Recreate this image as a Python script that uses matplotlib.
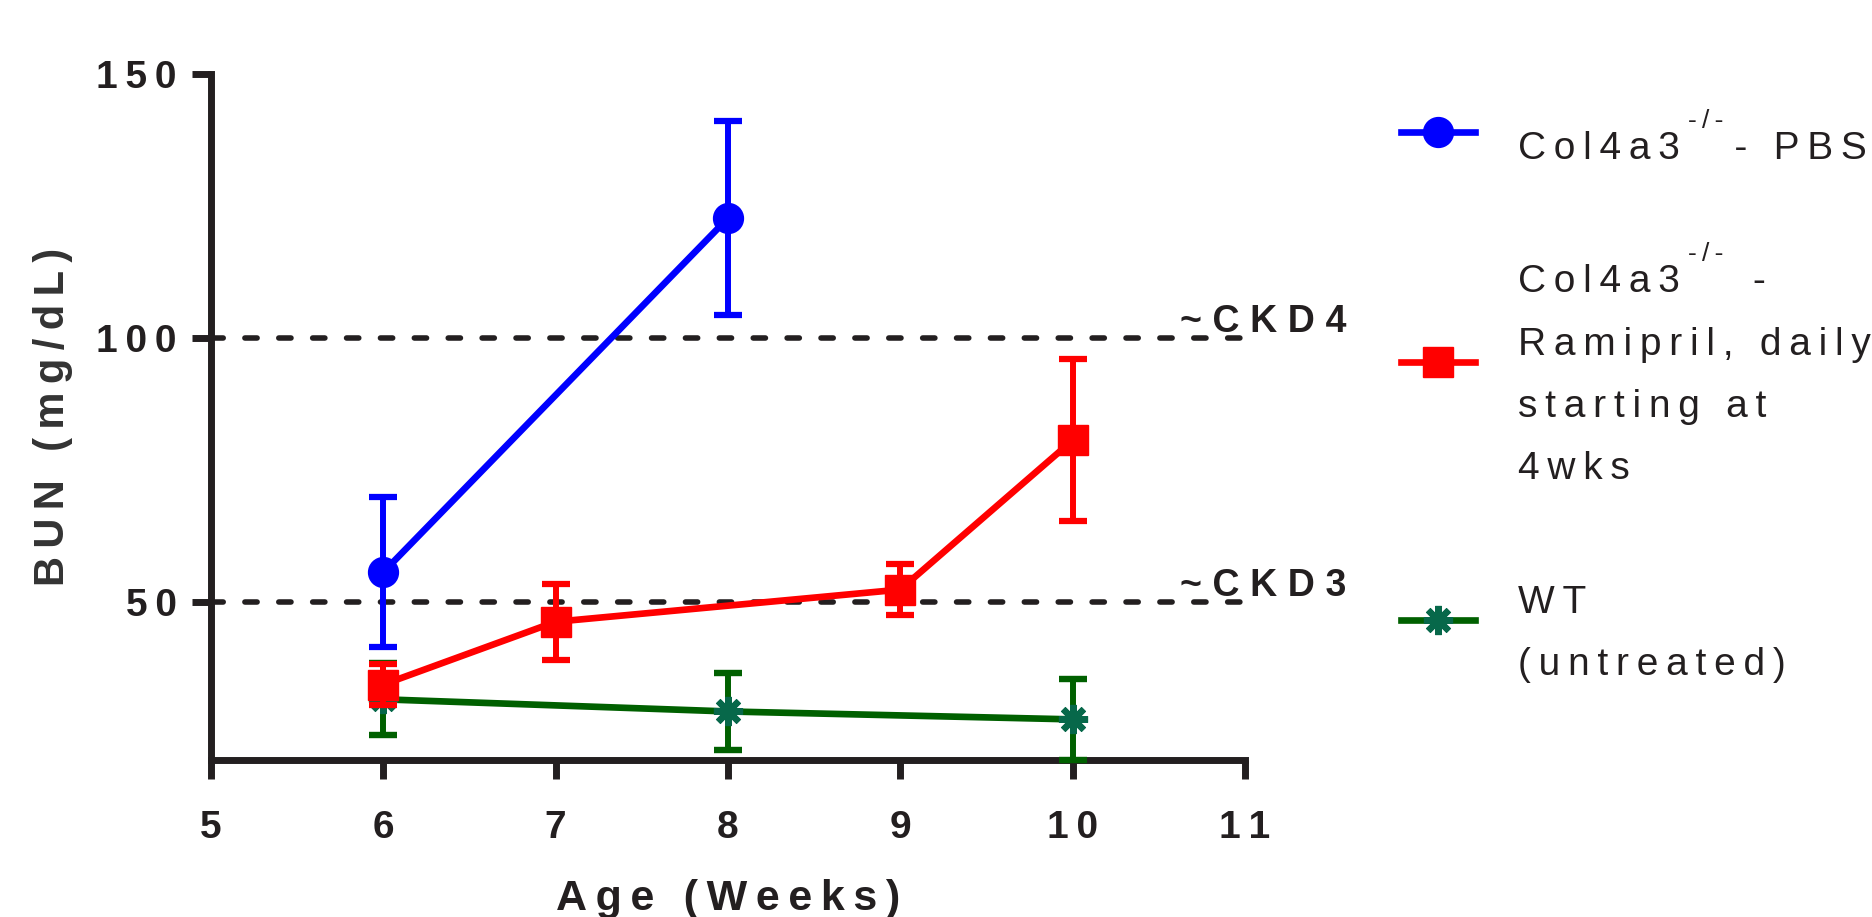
import numpy as np
import matplotlib.pyplot as plt

plt.rcParams['font.family'] = ['Liberation Sans', 'DejaVu Sans']

ink = '#231f20'

# BUN readings (mean and error) per group
weeks_pbs = [6, 8]
bun_pbs = [55.6, 122.7]
err_pbs = [14.2, 18.4]

weeks_ram = [6, 7, 9, 10]
bun_ram = [34.3, 46.2, 52.3, 80.6]
err_ram = [3.8, 7.2, 4.9, 15.4]

weeks_wt = [6, 8, 10]
bun_wt = [31.5, 29.2, 27.7]
err_wt = [6.8, 7.3, 7.7]

ckd_levels = [100, 50]
ckd_labels = ['~CKD4', '~CKD3']

x_ticks = [5, 6, 7, 8, 9, 10, 11]
y_ticks = [50, 100, 150]


def spaced(s, gap='\u2009'):
    # Prism style letter spacing
    return gap.join(s)


lab_pbs = spaced('Col4a3') + '\u2009\u2002\u2002\u2009' + spaced('- PBS')
lab_ram = '\n'.join([spaced('Col4a3') + '\u2009\u2002\u2002\u2009' + spaced(' -'),
                     spaced('Ramipril, daily'),
                     spaced('starting at'),
                     spaced('4wks')])
lab_wt = spaced('WT') + '\n' + spaced('(untreated)')

fig = plt.figure(figsize=(18.72, 9.17), dpi=100)
ax = fig.add_axes([0.1127, 0.1712, 0.5524, 0.7481])

for lvl, lab in zip(ckd_levels, ckd_labels):
    ax.axhline(lvl, color=ink, lw=4, ls=(0, (2.2, 3.9)), dash_capstyle='round', zorder=1.5)
    ax.text(10.62, lvl + 1.1, spaced(lab, '\u2009\u200a'), fontsize=27,
            fontweight='bold', color=ink, ha='left', va='baseline')

style = dict(lw=4.8, elinewidth=4.3, capsize=10, capthick=4.5)
c_wt = ax.errorbar(weeks_wt, bun_wt, yerr=err_wt, color='#006000', marker=(8, 2, 0),
                   ms=21, mec='#07684a', mew=4.6, zorder=3, **style)
c_pbs = ax.errorbar(weeks_pbs, bun_pbs, yerr=err_pbs, color='#0000ff', marker='o',
                    ms=21.5, zorder=4, **style)
c_ram = ax.errorbar(weeks_ram, bun_ram, yerr=err_ram, color='#ff0000', marker='s',
                    ms=21, zorder=5, **style)
for c in (c_wt, c_pbs, c_ram):
    for a in c.get_children():
        a.set_clip_on(False)

ax.set_xlim(5, 11)
ax.set_ylim(20, 150)
ax.set_xticks(x_ticks)
ax.set_xticklabels([spaced(str(v)) for v in x_ticks])
ax.set_yticks(y_ticks)
ax.set_yticklabels([spaced(str(v)) for v in y_ticks])

for side in ['top', 'right']:
    ax.spines[side].set_visible(False)
for side in ['left', 'bottom']:
    ax.spines[side].set_linewidth(5)
    ax.spines[side].set_color(ink)

ax.tick_params(length=13.7, width=5, color=ink, labelcolor=ink, labelsize=28)
ax.tick_params(axis='x', pad=22)
ax.tick_params(axis='y', pad=10.8)
for lbl in ax.get_xticklabels() + ax.get_yticklabels():
    lbl.set_fontweight('bold')

ax.set_xlabel(spaced('Age (Weeks)'), fontsize=31, fontweight='bold', color=ink, labelpad=24)
ax.set_ylabel(spaced('BUN (mg/dL)'), fontsize=30, fontweight='bold', color='#333333', labelpad=16.6)

leg = ax.legend([c_pbs[0], c_ram[0], c_wt[0]], [lab_pbs, lab_ram, lab_wt],
                loc='upper left', bbox_to_anchor=(0.7484, 0.857), bbox_transform=fig.transFigure,
                frameon=False, fontsize=28, handlelength=1.9, handletextpad=1.1,
                labelspacing=2.5, borderpad=0, borderaxespad=0)
for t in leg.get_texts():
    t.set_linespacing(1.94)
    t.set_color(ink)
# Prism puts the legend symbols a bit above the text centre
for hnd in leg.legend_handles:
    hnd.set_ydata(np.asarray(hnd.get_ydata()) + 10)

# superscript -/- after "Col4a3" in the first two labels
fig.canvas.draw()
renderer = fig.canvas.get_renderer()
for t in leg.get_texts()[:2]:
    bb = t.get_window_extent(renderer)
    w, h, d = renderer.get_text_width_height_descent('lp', t.get_fontproperties(), ismath=False)
    base = bb.y1 - (h - d)
    probe = fig.text(0, 0, spaced('Col4a3'), fontproperties=t.get_fontproperties())
    pw = probe.get_window_extent(renderer).width
    probe.remove()
    fx, fy = fig.transFigure.inverted().transform((bb.x0 + pw + 8, base + 0.8 * 38.9))
    fig.text(fx, fy, spaced('-/-'), fontsize=19, color=ink, ha='left', va='baseline')

fig.savefig('out.png', dpi=100)
